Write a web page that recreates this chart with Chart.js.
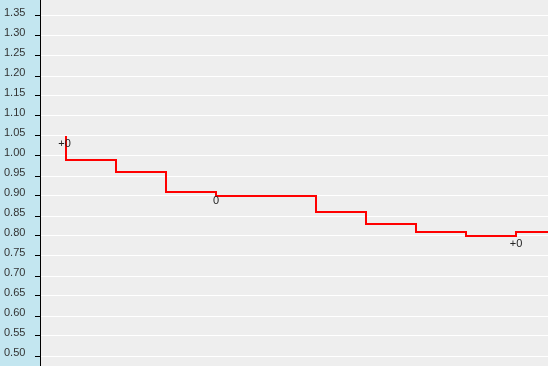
<!DOCTYPE html>
<html>
<head>
<meta charset="utf-8">
<script src="https://cdn.jsdelivr.net/npm/chart.js@4"></script>
<style>
    html, body { margin: 0; padding: 0; background: #eeeeee; }
    #wrap { width: 548px; height: 366px; }
</style>
</head>
<body>
<div id="wrap"><canvas id="chart"></canvas></div>
<script>
// Dados da curva em degraus
const stepX = [0, 0, 1, 2, 3, 5, 6, 7, 8, 9, 10];
const stepY = [1.05, 0.99, 0.96, 0.91, 0.90, 0.86, 0.83, 0.81, 0.80, 0.81, 0.81];

// Marcas do eixo Y
const yTicks = [0.50, 0.55, 0.60, 0.65, 0.70, 0.75, 0.80, 0.85, 0.90, 0.95,
                1.00, 1.05, 1.10, 1.15, 1.20, 1.25, 1.30, 1.35];

// Anotações de texto
const noteX = [-0.03, 3, 9];
const noteY = [1.03, 0.8875, 0.78];
const noteText = ['+0', '0', '+0'];

const FONT = "'Liberation Sans', Arial, sans-serif";

// Fundo azul do eixo e cinza da área do gráfico
const backgroundPlugin = {
    id: 'backgrounds',
    beforeDraw(chart) {
        const { ctx, chartArea } = chart;
        ctx.save();
        ctx.fillStyle = '#c3e6f0';
        ctx.fillRect(0, 0, chartArea.left, chart.height);
        ctx.fillStyle = '#eeeeee';
        ctx.fillRect(chartArea.left, 0, chart.width - chartArea.left, chart.height);
        ctx.restore();
    }
};

// Desenha os textos nas posições dos dados
const notesPlugin = {
    id: 'notes',
    afterDatasetsDraw(chart) {
        const { ctx, scales } = chart;
        ctx.save();
        ctx.font = '11px ' + FONT;
        ctx.fillStyle = '#222222';
        ctx.textAlign = 'center';
        ctx.textBaseline = 'middle';
        noteText.forEach((t, i) => {
            ctx.fillText(t, scales.x.getPixelForValue(noteX[i]), scales.y.getPixelForValue(noteY[i]));
        });
        ctx.restore();
    }
};

new Chart(document.getElementById('chart'), {
    type: 'line',
    data: {
        datasets: [{
            data: stepX.map((x, i) => ({ x: x, y: stepY[i] })),
            borderColor: '#ff0000',
            borderWidth: 2,
            stepped: 'before',
            pointRadius: 0,
            fill: false
        }]
    },
    options: {
        responsive: true,
        maintainAspectRatio: false,
        animation: false,
        layout: { padding: { left: 4, right: 0, top: 0, bottom: 0 } },
        plugins: { legend: { display: false }, tooltip: { enabled: false } },
        scales: {
            x: {
                type: 'linear',
                display: false,
                min: -0.52,
                max: 9.64
            },
            y: {
                type: 'linear',
                min: 0.475,
                max: 1.39,
                afterBuildTicks: (scale) => {
                    scale.ticks = yTicks.map(v => ({ value: v }));
                },
                afterFit: (scale) => {
                    scale.width = 36;
                    scale.paddingTop = 0;
                    scale.paddingBottom = 0;
                },
                grid: {
                    color: '#ffffff',
                    lineWidth: 1,
                    tickColor: '#000000',
                    tickLength: 5
                },
                border: { color: '#000000', width: 1 },
                ticks: {
                    crossAlign: 'far',
                    labelOffset: -3,
                    color: '#333333',
                    font: { family: FONT, size: 11 },
                    callback: (v) => Number(v).toFixed(2)
                }
            }
        }
    },
    plugins: [backgroundPlugin, notesPlugin]
});
</script>
</body>
</html>
